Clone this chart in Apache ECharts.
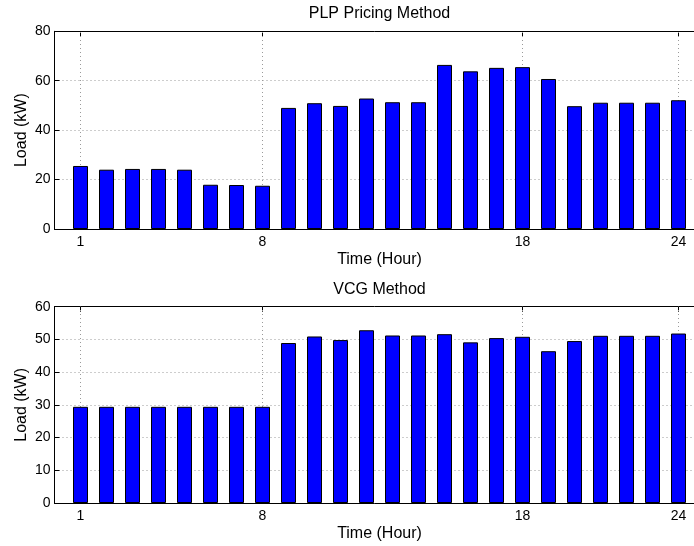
<!DOCTYPE html>
<html>
<head>
<meta charset="utf-8">
<title>Load profiles</title>
<script src="https://cdn.jsdelivr.net/npm/echarts@6/dist/echarts.min.js"></script>
<style>
  html, body { margin: 0; padding: 0; background: #fff; }
  #chart { width: 694px; height: 546px; }
</style>
</head>
<body>
<div id="chart"></div>
<script>
// Hours 1..24
const hours = [1,2,3,4,5,6,7,8,9,10,11,12,13,14,15,16,17,18,19,20,21,22,23,24];
// Hourly load (kW) under PLP pricing
const plpLoad = [25.5,24.0,24.3,24.3,24.0,17.9,17.8,17.5,49.0,50.9,49.8,52.8,51.3,51.3,66.4,63.8,65.2,65.5,60.7,49.7,51.1,51.1,51.1,52.1];
// Hourly load (kW) under the VCG method
const vcgLoad = [29.4,29.4,29.4,29.4,29.4,29.4,29.4,29.4,48.9,50.9,49.8,52.8,51.2,51.2,51.6,49.1,50.4,50.8,46.4,49.5,51.1,51.1,51.1,51.8];
// Labelled hour ticks
const hourTicks = [1, 8, 18, 24];
const titles = ['PLP Pricing Method', 'VCG Method'];
const yMax = [80, 60];
const yStep = [20, 10];

const FONT = "'Liberation Sans', Arial, Helvetica, sans-serif";
// the plot boxes run a little past the right edge of the page
const gridDefs = [
  { left: 54.5, top: 31.3, width: 650, height: 197.7, containLabel: false, outerBoundsMode: 'none' },
  { left: 54.5, top: 306.7, width: 650, height: 196.3, containLabel: false, outerBoundsMode: 'none' }
];
const dotted = { color: '#9a9a9a', width: 1, type: [1, 3] };

const chart = echarts.init(document.getElementById('chart'), null, { renderer: 'canvas' });

const xAxes = [], yAxes = [], series = [], titleList = [];
[plpLoad, vcgLoad].forEach((vals, i) => {
  // bottom hour axis with labels
  xAxes.push({
    type: 'value', gridIndex: i, min: 0, max: 25, position: 'bottom',
    name: 'Time (Hour)', nameLocation: 'middle', nameGap: 23, nameMoveOverlap: false,
    nameTextStyle: { fontFamily: FONT, fontSize: 16, color: '#000' },
    axisLine: { show: true, onZero: false, lineStyle: { color: '#000', width: 1 } },
    axisTick: { show: true, inside: true, length: 5, customValues: hourTicks, lineStyle: { color: '#000' } },
    axisLabel: { show: true, customValues: hourTicks, margin: 6, fontFamily: FONT, fontSize: 14, color: '#000' },
    splitLine: { show: false }
  });
  // top border of the box
  xAxes.push({
    type: 'value', gridIndex: i, min: 0, max: 25, position: 'top',
    axisLine: { show: true, onZero: false, lineStyle: { color: '#000', width: 1 } },
    axisTick: { show: true, inside: true, length: 5, customValues: hourTicks, lineStyle: { color: '#000' } },
    axisLabel: { show: false },
    splitLine: { show: false }
  });
  yAxes.push({
    type: 'value', gridIndex: i, min: 0, max: yMax[i], interval: yStep[i],
    name: 'Load (kW)', nameLocation: 'middle', nameGap: 25, nameRotate: 90, nameMoveOverlap: false,
    nameTextStyle: { fontFamily: FONT, fontSize: 16, color: '#000' },
    axisLine: { show: true, lineStyle: { color: '#000', width: 1 } },
    axisTick: { show: true, inside: true, length: 5, lineStyle: { color: '#000' } },
    axisLabel: { margin: 4, fontFamily: FONT, fontSize: 14, color: '#000' },
    splitLine: { show: true, lineStyle: dotted }
  });
  series.push({
    type: 'bar',
    xAxisIndex: i * 2, yAxisIndex: i,
    data: hours.map((h, k) => [h, vals[k]]),
    barWidth: 15,
    itemStyle: { color: '#0000ff', borderColor: '#000', borderWidth: 1 },
    silent: true,
    animation: false,
    markLine: {
      silent: true, symbol: 'none', z: 1, animation: false,
      label: { show: false },
      lineStyle: dotted,
      data: hourTicks.map(t => ({ xAxis: t }))
    }
  });
  titleList.push({
    text: titles[i],
    left: 54.5 + 325,
    textAlign: 'center',
    top: i === 0 ? 6 : 282,
    padding: 0,
    textStyle: { fontFamily: FONT, fontSize: 16, fontWeight: 'normal', color: '#000' }
  });
});

chart.setOption({
  animation: false,
  backgroundColor: '#fff',
  title: titleList,
  grid: gridDefs,
  xAxis: xAxes,
  yAxis: yAxes,
  series: series
});
</script>
</body>
</html>
